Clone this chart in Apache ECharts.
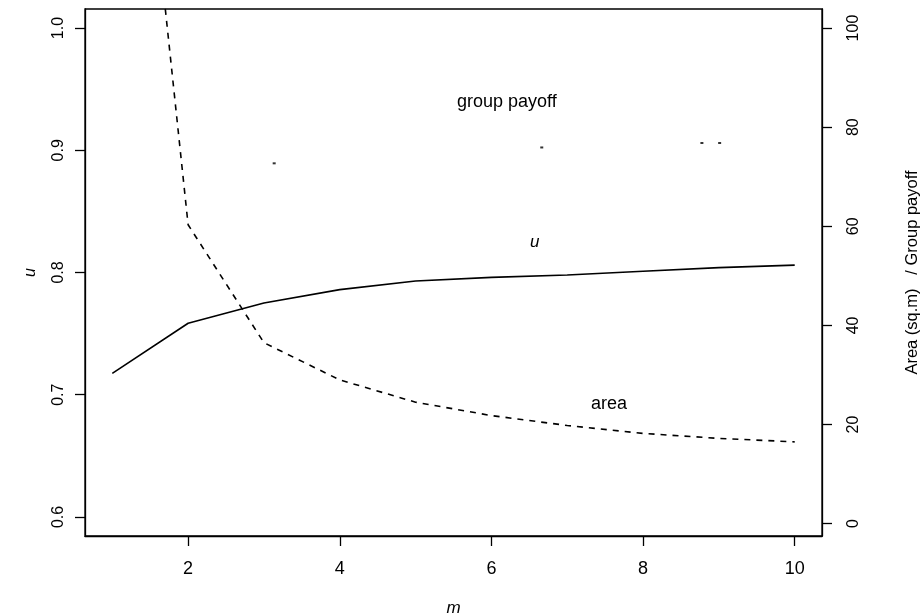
<!DOCTYPE html>
<html><head><meta charset="utf-8">
<script src="https://cdn.jsdelivr.net/npm/echarts@6/dist/echarts.min.js"></script>
<style>html,body{margin:0;padding:0;background:#fff}#c{width:920px;height:616px}</style>
</head><body><div id="c"></div>
<script>
// ---- data ----
const mValues = [1, 2, 3, 4, 5, 6, 7, 8, 9, 10];
const uValues = [0.7175, 0.7585, 0.775, 0.786, 0.793, 0.796, 0.798, 0.801, 0.804, 0.806];
const areaValues = [205, 60.3, 36.5, 29.0, 24.5, 21.8, 19.8, 18.2, 17.2, 16.5];
// faint remnants of the (dotted) group payoff curve
const groupPayoffM = [3.135, 6.664, 8.776, 9.01];
const groupPayoffValues = [72.7, 75.9, 76.8, 76.8];
const xTicks = [2, 4, 6, 8, 10];
const uTicks = [0.6, 0.7, 0.8, 0.9, 1.0];
const rightTicks = [0, 20, 40, 60, 80, 100];

const FONT = '"Liberation Sans", Arial, Helvetica, sans-serif';
const chart = echarts.init(document.getElementById('c'), null, {renderer: 'canvas'});

const uData = mValues.map((m, i) => [m, uValues[i]]);
const areaData = mValues.map((m, i) => [m, areaValues[i]]);
const gpData = groupPayoffM.map((m, i) => [m, groupPayoffValues[i]]);

const axisCommon = {
  axisLine: {show: true, onZero: false, lineStyle: {color: '#000', width: 1.3}},
  splitLine: {show: false},
};

chart.setOption({
  backgroundColor: '#fff',
  animation: false,
  grid: {left: 85, right: 98, top: 9, bottom: 80, outerBoundsMode: 'none', containLabel: false,
    show: true, borderColor: '#000', borderWidth: 1.3, backgroundColor: 'transparent'},
  xAxis: {
    type: 'value', min: 0.64, max: 10.36,
    name: 'm', nameLocation: 'middle', nameGap: 64,
    nameTextStyle: {fontFamily: FONT, fontSize: 17, fontStyle: 'italic', color: '#000'},
    ...axisCommon,
    axisTick: {show: true, length: 10, customValues: xTicks, lineStyle: {color: '#000', width: 1.3}},
    axisLabel: {customValues: xTicks, margin: 24, fontFamily: FONT, fontSize: 18, color: '#000'}
  },
  yAxis: [{
    type: 'value', min: 0.5844, max: 1.0156, position: 'left',
    name: 'u', nameLocation: 'middle', nameGap: 46, nameRotate: 90,
    nameTextStyle: {fontFamily: FONT, fontSize: 16, fontStyle: 'italic', color: '#000'},
    ...axisCommon,
    axisTick: {show: true, length: 10, customValues: uTicks, lineStyle: {color: '#000', width: 1.3}},
    axisLabel: {customValues: uTicks, rotate: 90, margin: 18, fontFamily: FONT, fontSize: 16, color: '#000',
      formatter: v => v.toFixed(1)}
  }, {
    type: 'value', min: -2.5, max: 103.84, position: 'right',
    name: 'Area (sq.m)   / Group payoff', nameLocation: 'middle', nameGap: 82, nameRotate: 90,
    nameTextStyle: {fontFamily: FONT, fontSize: 16.5, color: '#000'},
    ...axisCommon,
    axisTick: {show: true, length: 10, customValues: rightTicks, lineStyle: {color: '#000', width: 1.3}},
    axisLabel: {customValues: rightTicks, rotate: 90, margin: 24, fontFamily: FONT, fontSize: 16, color: '#000',
      formatter: v => String(Math.round(v))}
  }],
  series: [{
    name: 'u', type: 'line', yAxisIndex: 0, data: uData, showSymbol: false, clip: true,
    lineStyle: {color: '#000', width: 1.6, type: 'solid'}
  }, {
    name: 'area', type: 'line', yAxisIndex: 1, data: areaData, showSymbol: false, clip: true,
    lineStyle: {color: '#000', width: 1.6, type: [6, 6]}
  }, {
    name: 'group payoff', type: 'scatter', yAxisIndex: 1, data: gpData, symbol: 'rect', symbolSize: [3, 2],
    itemStyle: {color: '#000'}, clip: true
  }],
  graphic: [
    {type: 'text', left: 457, top: 93, style: {text: 'group payoff', font: '18px ' + FONT, fill: '#000'}},
    {type: 'text', left: 530, top: 234, style: {text: 'u', font: 'italic 17px ' + FONT, fill: '#000'}},
    {type: 'text', left: 591, top: 395, style: {text: 'area', font: '18px ' + FONT, fill: '#000'}}
  ]
});
</script>
</body></html>
